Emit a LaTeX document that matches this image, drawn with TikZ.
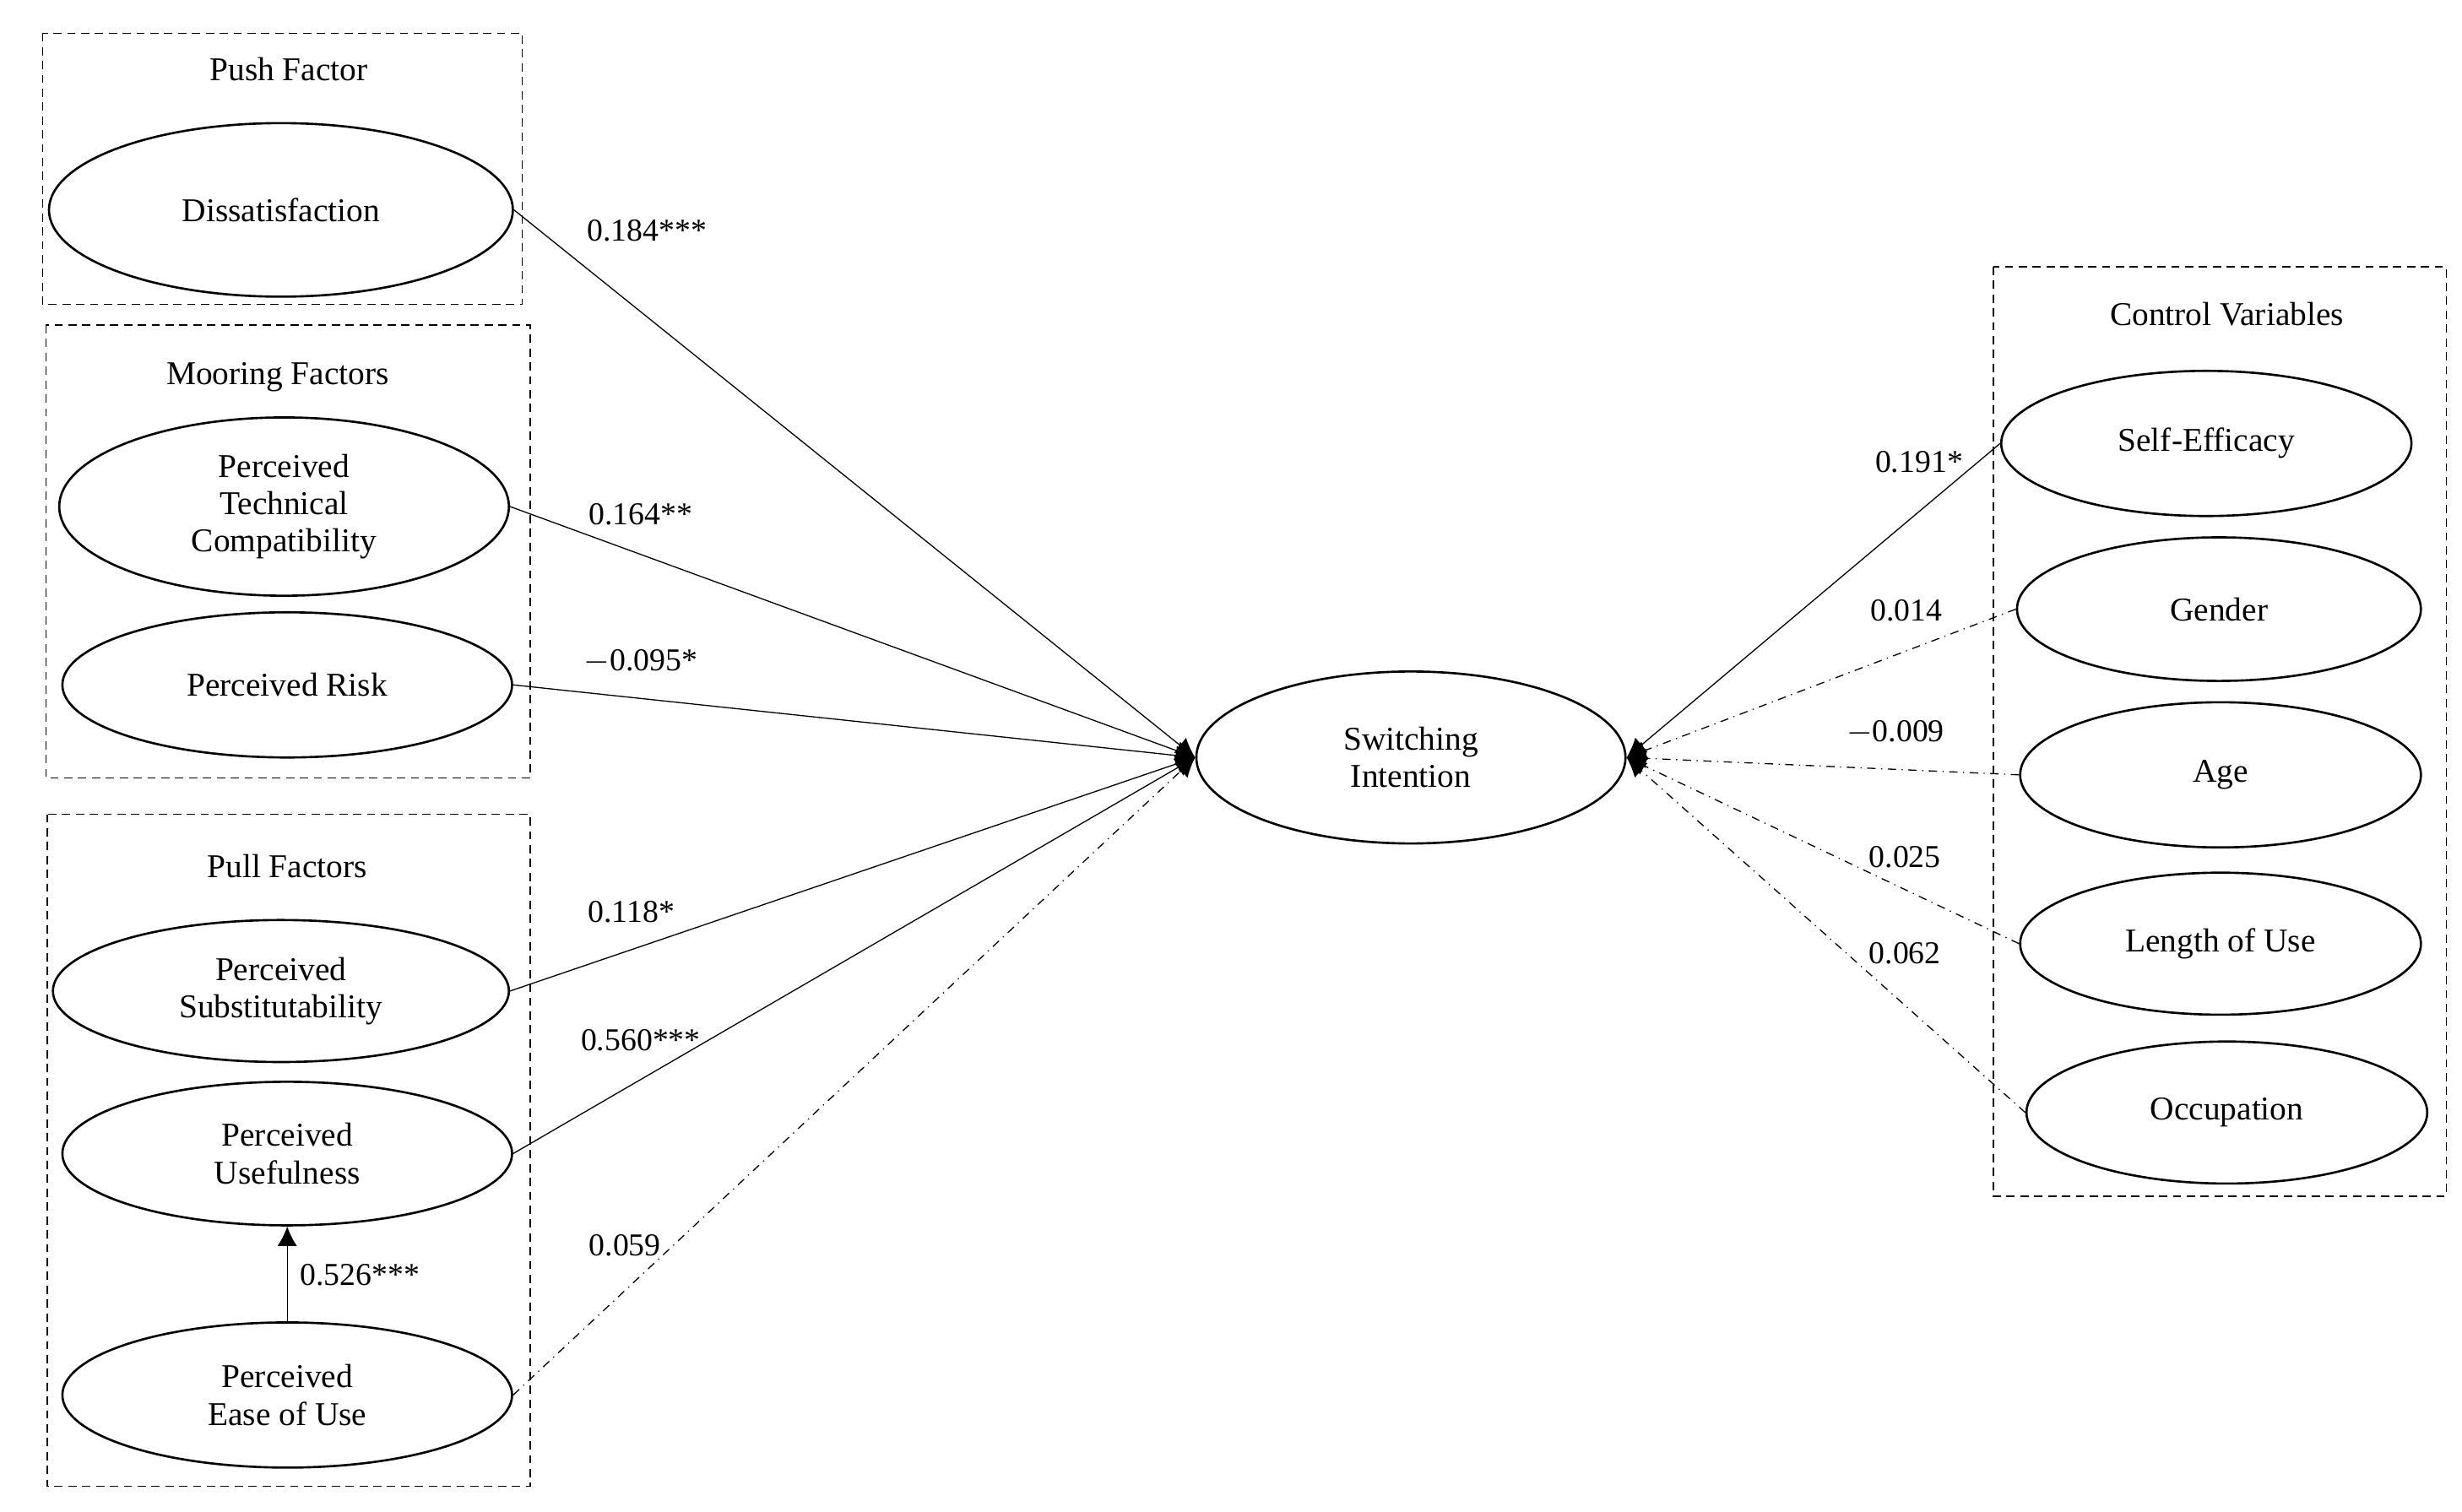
\documentclass[tikz,border=0pt]{standalone}
\usepackage{fontspec}
\setmainfont{Liberation Serif}
\usetikzlibrary{shapes,arrows.meta,positioning}
\tikzset{
  var/.style={ellipse, draw, thick, align=center, inner sep=0pt},
  grp/.style={draw, densely dashed, thin},
  path/.style={thin, -{Latex[length=7pt,width=7pt]}},
  ns/.style={thin, dash dot, -{Latex[length=7pt,width=7pt]}},
  coef/.style={font=\fontsize{11.5}{14}\selectfont}
}
\begin{document}
\begin{tikzpicture}[x=0.02cm, y=-0.02cm, font=\fontsize{12}{13.5}\selectfont]
        \useasboundingbox (0,0) rectangle (1560,958);
        % Group boxes
        \draw[grp] (27,21) rectangle (331,193);
        \draw[grp] (29,206) rectangle (336,493);
        \draw[grp] (30,516) rectangle (336,942);
        \draw[grp] (1263,169) rectangle (1550,758);
        \node (tpush) at (183,44) {Push Factor};
        \node (tmoor) at (176,239) {Mooring Factors};
        \node (tpull) at (182,549) {Pull Factors};
        \node (tctrl) at (1411,199) {Control Variables};
        
        % Predictors
        \node[var, minimum width=5.88cm, minimum height=2.2cm] (dis) at (178,133) {Dissatisfaction};
        \node[var, minimum width=5.7cm, minimum height=2.26cm] (ptc) at (180,321) {Perceived\\Technical\\Compatibility};
        \node[var, minimum width=5.7cm, minimum height=1.84cm] (pr) at (182,434) {Perceived Risk};
        \node[var, minimum width=5.78cm, minimum height=1.8cm] (ps) at (178,628) {Perceived\\Substitutability};
        \node[var, minimum width=5.7cm, minimum height=1.82cm] (pu) at (182,731) {Perceived\\Usefulness};
        \node[var, minimum width=5.7cm, minimum height=1.84cm] (peou) at (182,884) {Perceived\\Ease of Use};
        
        % Outcome
        \node[var, minimum width=5.44cm, minimum height=2.18cm] (si) at (894,480) {Switching\\Intention};
        
        % Controls
        \node[var, minimum width=5.2cm, minimum height=1.84cm] (se) at (1398,281) {Self-Efficacy};
        \node[var, minimum width=5.12cm, minimum height=1.82cm] (gen) at (1406,386) {Gender};
        \node[var, minimum width=5.08cm, minimum height=1.84cm] (age) at (1407,491) {Age};
        \node[var, minimum width=5.08cm, minimum height=1.8cm] (lou) at (1407,598) {Length of Use};
        \node[var, minimum width=5.08cm, minimum height=1.8cm] (occ) at (1411,705) {Occupation};
        
        % Paths
        \draw[path] (dis.east) -- (si.west);
        \draw[path] (ptc.east) -- (si.west);
        \draw[path] (pr.east) -- (si.west);
        \draw[path] (ps.east) -- (si.west);
        \draw[path] (pu.east) -- (si.west);
        \draw[ns] (peou.east) -- (si.west);
        \draw[path] (peou) -- (pu);
        \draw[path] (se.west) -- (si.east);
        \draw[ns] (gen.west) -- (si.east);
        \draw[ns] (age.west) -- (si.east);
        \draw[ns] (lou.west) -- (si.east);
        \draw[ns] (occ.west) -- (si.east);
        
        % Coefficients
        \node[coef] at (410,146) {0.184***};
        \node[coef] at (406,326) {0.164**};
        \node[coef] at (406,419) {$-$0.095*};
        \node[coef] at (400,578) {0.118*};
        \node[coef] at (406,659) {0.560***};
        \node[coef] at (396,789) {0.059};
        \node[coef] at (228,808) {0.526***};
        \node[coef] at (1216,293) {0.191*};
        \node[coef] at (1208,387) {0.014};
        \node[coef] at (1201,464) {$-$0.009};
        \node[coef] at (1207,543) {0.025};
        \node[coef] at (1207,604) {0.062};
    \end{tikzpicture}
\end{document}
